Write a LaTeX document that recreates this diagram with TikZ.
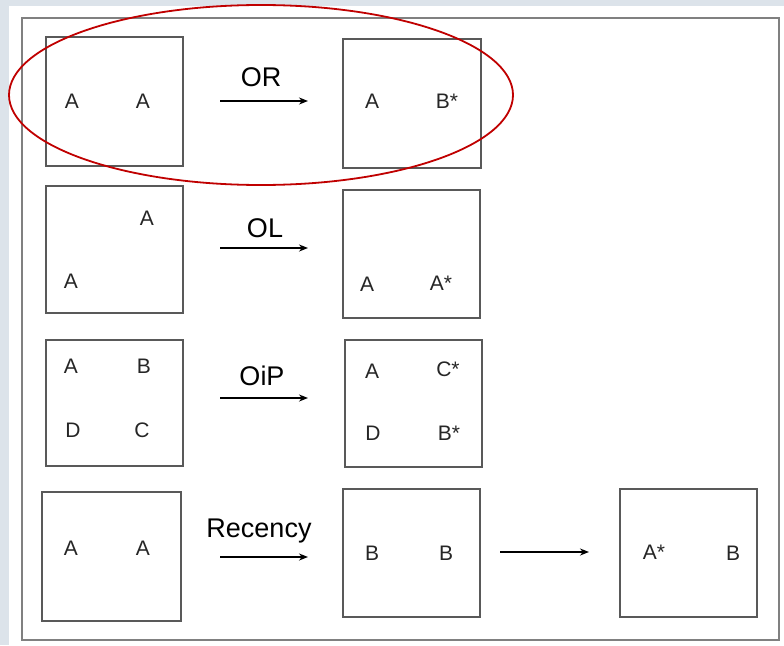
\documentclass[tikz,border=0pt]{standalone}
\usepackage{fontspec}
\setmainfont{Liberation Sans}
\usetikzlibrary{arrows.meta}
\definecolor{bgblue}{HTML}{DCE3EA}
\definecolor{darkred}{HTML}{C00000}
\begin{document}
\begin{tikzpicture}[x=1pt,y=-1pt,
  panel/.style={draw=black!65,line width=1.3pt},
  letter/.style={font=\fontsize{21}{21}\selectfont,text=black!85,inner sep=0},
  oplabel/.style={font=\fontsize{27}{27}\selectfont,inner sep=0},
  oparrow/.style={draw=black,line width=2pt,-{Stealth[length=9pt,width=7pt]}}]
\useasboundingbox (0,0) rectangle (784,645);
\fill[bgblue] (0,0) rectangle (784,645);
\fill[white] (9,6) rectangle (784,645);
\draw[draw=black!50,line width=1.3pt] (22,18) rectangle (779,640);
% row 1
\node[panel,minimum width=137pt,minimum height=129pt,inner sep=0] (b11) at (114.5,101.5) {};
\node[panel,minimum width=138pt,minimum height=129pt,inner sep=0] (b12) at (412,103.5) {};
\node[letter] (t111) at (72,101) {A};
\node[letter] (t112) at (143,101) {A};
\node[letter] (t121) at (372,101) {A};
\node[letter] (t122) at (447,101) {B*};
\coordinate (a1s) at (220,101);
\coordinate (a1e) at (308,101);
\draw[oparrow] (a1s) -- (a1e);
\node[oplabel] (l1) at (261,77) {OR};
% row 2
\node[panel,minimum width=137pt,minimum height=127pt,inner sep=0] (b21) at (114.5,249.5) {};
\node[panel,minimum width=137pt,minimum height=128pt,inner sep=0] (b22) at (411.5,254) {};
\node[letter] (t211) at (147,218) {A};
\node[letter] (t212) at (71,281) {A};
\node[letter] (t221) at (367,284) {A};
\node[letter] (t222) at (441,283) {A*};
\coordinate (a2s) at (220,248);
\coordinate (a2e) at (308,248);
\draw[oparrow] (a2s) -- (a2e);
\node[oplabel] (l2) at (265,228) {OL};
% row 3
\node[panel,minimum width=137pt,minimum height=126pt,inner sep=0] (b31) at (114.5,403) {};
\node[panel,minimum width=137pt,minimum height=127pt,inner sep=0] (b32) at (413.5,403.5) {};
\node[letter] (t311) at (71,366) {A};
\node[letter] (t312) at (144,366) {B};
\node[letter] (t313) at (73,430) {D};
\node[letter] (t314) at (142,430) {C};
\node[letter] (t321) at (372,371) {A};
\node[letter] (t322) at (448,369) {C*};
\node[letter] (t323) at (373,433) {D};
\node[letter] (t324) at (449,433) {B*};
\coordinate (a3s) at (220,398);
\coordinate (a3e) at (308,398);
\draw[oparrow] (a3s) -- (a3e);
\node[oplabel] (l3) at (262,376) {OiP};
% row 4
\node[panel,minimum width=139pt,minimum height=129pt,inner sep=0] (b41) at (111.5,556.5) {};
\node[panel,minimum width=137pt,minimum height=128pt,inner sep=0] (b42) at (411.5,553) {};
\node[panel,minimum width=137pt,minimum height=128pt,inner sep=0] (b43) at (688.5,553) {};
\node[letter] (t411) at (71,548) {A};
\node[letter] (t412) at (143,548) {A};
\node[letter] (t421) at (372,553) {B};
\node[letter] (t422) at (446,553) {B};
\node[letter] (t431) at (654,552) {A*};
\node[letter] (t432) at (733,553) {B};
\coordinate (a4s) at (220,557);
\coordinate (a4e) at (308,557);
\draw[oparrow] (a4s) -- (a4e);
\node[oplabel] (l4) at (259,531) {Recency};
\coordinate (a5s) at (500,552);
\coordinate (a5e) at (589,552);
\draw[oparrow] (a5s) -- (a5e);
% ellipse
\draw[darkred,line width=1.8pt] (261,95) ellipse [x radius=252, y radius=90];
\end{tikzpicture}
\end{document}
